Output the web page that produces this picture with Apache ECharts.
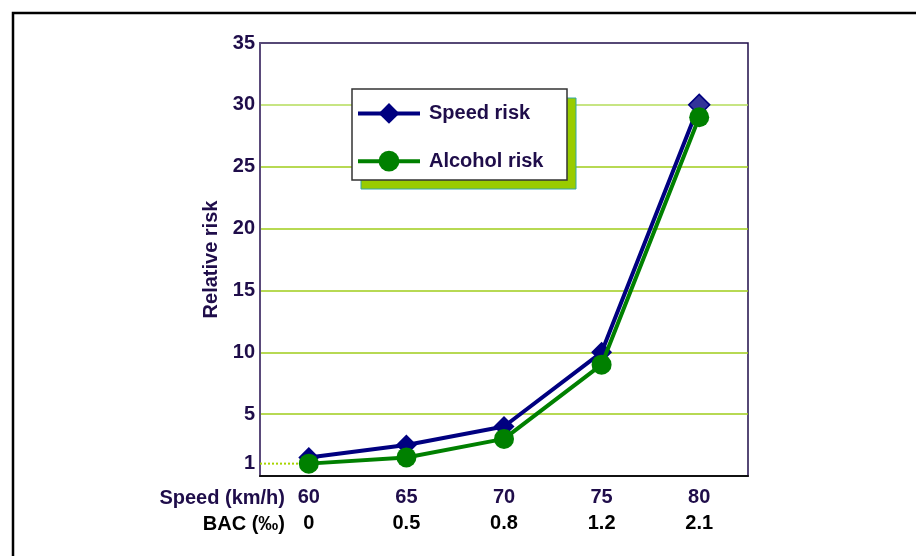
<!DOCTYPE html>
<html>
<head>
<meta charset="utf-8">
<script src="https://cdn.jsdelivr.net/npm/echarts@6/dist/echarts.min.js"></script>
<style>html,body{margin:0;padding:0;background:#fff}#c{width:916px;height:556px}</style>
</head>
<body>
<div id="c"></div>
<script>
// ---- data ----
var speeds = [60, 65, 70, 75, 80];           // km/h (x categories)
var bac = ['0', '0.5', '0.8', '1.2', '2.1']; // BAC (‰) per column
var speedRisk = [1.5, 2.5, 4, 10, 30];
var alcoholRisk = [1, 1.5, 3, 9, 29];
var yTickLabels = [1, 5, 10, 15, 20, 25, 30, 35];
var seriesNames = ['Speed risk', 'Alcohol risk'];

var FONT = '"Liberation Sans", Arial, sans-serif';
var PURPLE = '#1f0d4a';
var step = speeds[1] - speeds[0];
var xMin = speeds[0] - step / 2;
var xMax = speeds[speeds.length - 1] + step / 2;

function pairs(vals) { return speeds.map(function (s, i) { return [s, vals[i]]; }); }

var speedData = pairs(speedRisk);
speedData[speedData.length - 1] = { value: speedData[speedData.length - 1], itemStyle: { color: '#333399', borderColor: '#000080', borderWidth: 1.5 } };

var chart = echarts.init(document.getElementById('c'));
chart.setOption({
  animation: false,
  backgroundColor: '#fff',
  grid: { left: 260, top: 43, width: 488, height: 433, show: true, borderColor: PURPLE, borderWidth: 1.5, backgroundColor: 'transparent' },
  xAxis: {
    type: 'value', min: xMin, max: xMax,
    axisLine: { show: true, lineStyle: { color: '#111', width: 2 } },
    axisTick: { show: false },
    splitLine: { show: false },
    axisLabel: {
      customValues: speeds, margin: 8,
      formatter: function (v) { var i = speeds.indexOf(v); return '{a|' + v + '}\n{b|' + bac[i] + '}'; },
      rich: {
        a: { fontFamily: FONT, fontWeight: 'bold', fontSize: 20, color: PURPLE, lineHeight: 26 },
        b: { fontFamily: FONT, fontWeight: 'bold', fontSize: 20, color: '#000', lineHeight: 26 }
      }
    }
  },
  yAxis: {
    type: 'value', min: 0, max: 35, interval: 5,
    name: 'Relative risk', nameLocation: 'middle', nameRotate: 90, nameGap: 30,
    nameTextStyle: { fontFamily: FONT, fontWeight: 'bold', fontSize: 20, color: PURPLE },
    axisLine: { show: true, lineStyle: { color: '#5a4a7a', width: 2 } },
    axisTick: { show: false },
    axisLabel: { customValues: yTickLabels, margin: 5, fontFamily: FONT, fontWeight: 'bold', fontSize: 20, color: PURPLE },
    splitLine: { show: true, lineStyle: { width: 1.5, color: ['rgba(0,0,0,0)', '#9fcc1a', '#9fcc1a', '#9fcc1a', '#9fcc1a', '#9fcc1a', '#b5dc5a', 'rgba(0,0,0,0)'] } }
  },
  legend: {
    data: seriesNames, orient: 'vertical', left: 356, top: 103,
    itemWidth: 62, itemHeight: 26, itemGap: 27, padding: 0, z: 20,
    lineStyle: { width: 4 },
    textStyle: { fontFamily: FONT, fontWeight: 'bold', fontSize: 20, color: PURPLE, padding: [0, 0, 0, 4] }
  },
  graphic: [
    { type: 'rect', z: 1, shape: { x: 13, y: 13, width: 1000, height: 1000 }, style: { fill: 'none', stroke: '#000', lineWidth: 2.5 } },
    { type: 'rect', z: 10, shape: { x: 361, y: 98, width: 215, height: 91 }, style: { fill: '#99cc00', stroke: '#33a6a6', lineWidth: 1 } },
    { type: 'rect', z: 11, shape: { x: 352, y: 89, width: 215, height: 91 }, style: { fill: '#fff', stroke: '#333', lineWidth: 1.5 } },
    { type: 'text', z: 11, style: { x: 285, y: 498, text: 'Speed (km/h)', textAlign: 'right', textVerticalAlign: 'middle', fontFamily: FONT, fontWeight: 'bold', fontSize: 20, fill: PURPLE } },
    { type: 'text', z: 11, style: { x: 285, y: 524, text: 'BAC (‰)', textAlign: 'right', textVerticalAlign: 'middle', fontFamily: FONT, fontWeight: 'bold', fontSize: 20, fill: '#000' } }
  ],
  series: [
    { type: 'line', name: 'ref1', data: [[xMin, alcoholRisk[0]], [speeds[0], alcoholRisk[0]]], symbol: 'none', silent: true,
      lineStyle: { type: 'dotted', color: '#a8d400', width: 2 }, z: 2 },
    { type: 'line', name: seriesNames[0], data: speedData, symbol: 'diamond', symbolSize: 21,
      lineStyle: { color: '#000080', width: 4 }, itemStyle: { color: '#000080' }, z: 3 },
    { type: 'line', name: seriesNames[1], data: pairs(alcoholRisk), symbol: 'circle', symbolSize: 20,
      lineStyle: { color: '#008000', width: 4 }, itemStyle: { color: '#008000' }, z: 4 }
  ]
});
</script>
</body>
</html>
